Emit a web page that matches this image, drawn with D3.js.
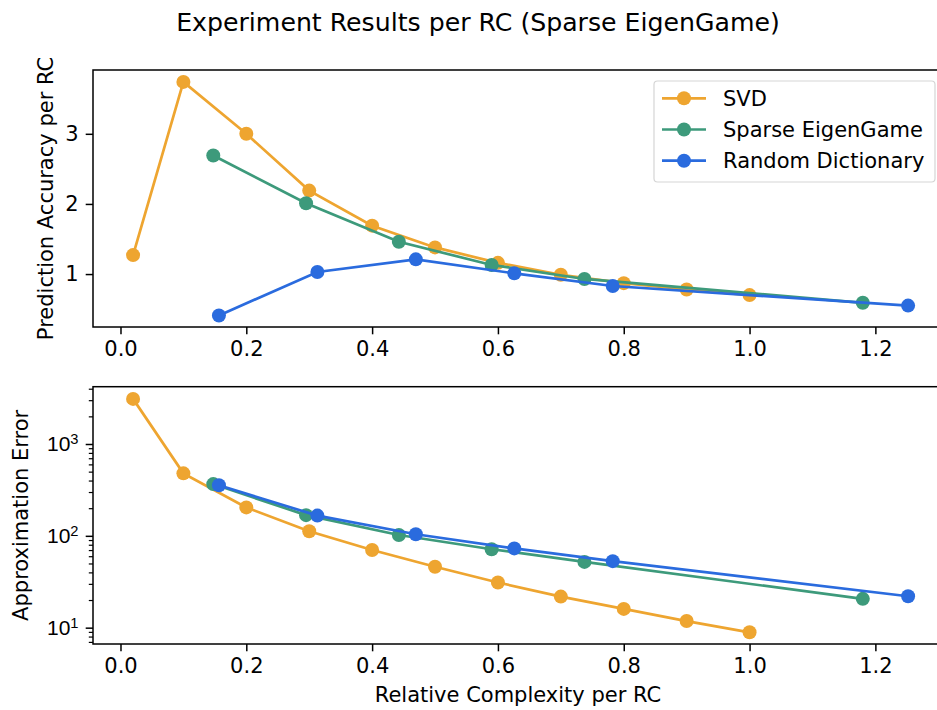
<!DOCTYPE html>
<html>
<head>
<meta charset="utf-8">
<script src="https://cdn.jsdelivr.net/npm/d3@7"></script>
<style>
  body { margin: 0; background: #fff; }
  svg { font-family: "DejaVu Sans", sans-serif; }
</style>
</head>
<body>
<div id="chart"></div>
<script>
// values
const seriesNames = ['SVD', 'Sparse EigenGame', 'Random Dictionary']
const seriesColors = ['#eea530', '#3d9a7b', '#2a6bde']

const svdX = [0.02, 0.1, 0.2, 0.3, 0.4, 0.5, 0.6, 0.7, 0.8, 0.9, 1.0]
const svdAcc = [1.27, 3.74, 3.0, 2.19, 1.69, 1.38, 1.16, 0.99, 0.87, 0.78, 0.70]
const svdErr = [3100, 479, 204, 112, 70, 46, 31, 21.8, 16, 11.8, 8.9]

const segX = [0.1475, 0.295, 0.4425, 0.59, 0.7375, 1.18]
const segAcc = [2.69, 2.01, 1.46, 1.13, 0.93, 0.59]
const segErr = [366, 168, 102, 71.5, 52, 20.6]

const rdX = [0.1565, 0.313, 0.4695, 0.626, 0.7825, 1.252]
const rdAcc = [0.41, 1.03, 1.21, 1.01, 0.83, 0.55]
const rdErr = [355, 166, 104, 73, 53, 22]

const xTicks = [0.0, 0.2, 0.4, 0.6, 0.8, 1.0, 1.2]
const accTicks = [1, 2, 3]
const errTicks = [10, 100, 1000]

const W = 937, H = 710
const left = 93, right = 943
const top1 = 70, bot1 = 327
const top2 = 386.7, bot2 = 644
const fs = 21

const svg = d3.select('#chart').append('svg')
    .attr('width', W).attr('height', H)

const x = d3.scaleLinear().domain([-0.0437, 1.3075]).range([left, right])
const yAcc = d3.scaleLinear().domain([0.245, 3.91]).range([bot1, top1])
const yErr = d3.scaleLog().domain([6.64, 4207]).range([bot2, top2])

const xAcc = [svdX, segX, rdX]
const accVals = [svdAcc, segAcc, rdAcc]
const errVals = [svdErr, segErr, rdErr]

function styleAxis(g, w) {
    g.selectAll('.domain').remove()
    g.selectAll('line').attr('stroke', '#000').attr('stroke-width', w || 1.5)
    g.selectAll('text').attr('fill', '#000').style('font-size', fs + 'px')
        .style('font-family', '"DejaVu Sans", sans-serif')
}

function drawPanel(yScale, vals, yT, yB) {
    const g = svg.append('g')

    // x axis
    g.append('g')
        .attr('transform', 'translate(0,' + yB + ')')
        .call(d3.axisBottom(x).tickValues(xTicks).tickFormat(d3.format('.1f'))
            .tickSize(7.3).tickPadding(7))
        .call(styleAxis)

    const line = d3.line()
        .x((d) => x(d[0]))
        .y((d) => yScale(d[1]))

    vals.forEach(function (ys, i) {
        const pts = xAcc[i].map((v, j) => [v, ys[j]])
        g.append('path')
            .attr('d', line(pts))
            .attr('fill', 'none')
            .attr('stroke', seriesColors[i])
            .attr('stroke-width', 2.7)
        g.selectAll('circle.s' + i)
            .data(pts)
            .enter()
            .append('circle')
            .attr('cx', (d) => x(d[0]))
            .attr('cy', (d) => yScale(d[1]))
            .attr('r', 7)
            .attr('fill', seriesColors[i])
    })

    // frame
    g.append('rect')
        .attr('x', left).attr('y', yT)
        .attr('width', right - left).attr('height', yB - yT)
        .attr('fill', 'none').attr('stroke', '#000').attr('stroke-width', 1.5)
    return g
}

const g1 = drawPanel(yAcc, accVals, top1, bot1)
g1.append('g')
    .attr('transform', 'translate(' + left + ',0)')
    .call(d3.axisLeft(yAcc).tickValues(accTicks).tickFormat(d3.format('d'))
        .tickSize(7.3).tickPadding(7))
    .call(styleAxis)

const g2 = drawPanel(yErr, errVals, top2, bot2)
// minor log ticks
const minor = yErr.ticks().filter((d) => Math.abs(Math.log10(d) - Math.round(Math.log10(d))) > 1e-6)
g2.append('g')
    .attr('transform', 'translate(' + left + ',0)')
    .call(d3.axisLeft(yErr).tickValues(minor).tickFormat('').tickSize(4.2))
    .call(styleAxis, 1.2)
const major = g2.append('g')
    .attr('transform', 'translate(' + left + ',0)')
    .call(d3.axisLeft(yErr).tickValues(errTicks).tickFormat('').tickSize(7.3))
    .call(styleAxis)
major.selectAll('.tick').append('text')
    .attr('x', -14.5).attr('dy', '0.32em')
    .attr('text-anchor', 'end')
    .style('font-size', fs + 'px')
    .attr('fill', '#000')
    .each(function (d) {
        const t = d3.select(this)
        t.append('tspan').text('10')
        t.append('tspan').text(Math.round(Math.log10(d)))
            .attr('dy', '-0.5em').style('font-size', '14.7px')
    })

// titles
svg.append('text')
    .attr('x', 478).attr('y', 31)
    .attr('text-anchor', 'middle')
    .style('font-size', '25.2px')
    .text('Experiment Results per RC (Sparse EigenGame)')

svg.append('text')
    .attr('transform', 'translate(53,' + (top1 + bot1) / 2 + ') rotate(-90)')
    .attr('text-anchor', 'middle')
    .style('font-size', fs + 'px')
    .text('Prediction Accuracy per RC')

svg.append('text')
    .attr('transform', 'translate(28,' + (top2 + bot2) / 2 + ') rotate(-90)')
    .attr('text-anchor', 'middle')
    .style('font-size', fs + 'px')
    .text('Approximation Error')

svg.append('text')
    .attr('x', (left + right) / 2).attr('y', 702)
    .attr('text-anchor', 'middle')
    .style('font-size', fs + 'px')
    .text('Relative Complexity per RC')

// legend
const lg = svg.append('g')
lg.append('rect')
    .attr('x', 654).attr('y', 81).attr('width', 281).attr('height', 101)
    .attr('rx', 3.5)
    .attr('fill', '#fff').attr('fill-opacity', 0.8)
    .attr('stroke', '#d5d5d5').attr('stroke-width', 1.2)
seriesNames.forEach(function (name, i) {
    const yy = 98.3 + i * 31.2
    lg.append('line')
        .attr('x1', 662).attr('x2', 706).attr('y1', yy).attr('y2', yy)
        .attr('stroke', seriesColors[i]).attr('stroke-width', 2.7)
    lg.append('circle')
        .attr('cx', 684).attr('cy', yy).attr('r', 7)
        .attr('fill', seriesColors[i])
    lg.append('text')
        .attr('x', 723).attr('y', yy).attr('dy', '0.36em')
        .style('font-size', fs + 'px')
        .text(name)
})
</script>
</body>
</html>
